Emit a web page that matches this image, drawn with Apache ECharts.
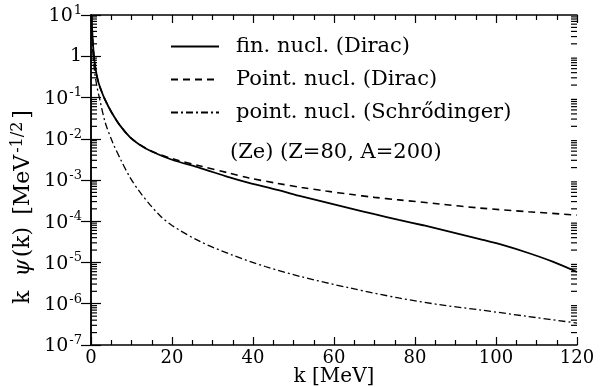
<!DOCTYPE html>
<html><head><meta charset="utf-8">
<script src="https://cdn.jsdelivr.net/npm/echarts@6/dist/echarts.min.js"></script>
<style>html,body{margin:0;padding:0;background:#fff}#c{width:615px;height:387px}</style>
</head><body><div id="c"></div>
<script>
// ---- data ----
const seriesNames = ['fin. nucl. (Dirac)', 'Point. nucl. (Dirac)', 'point. nucl. (Schrődinger)'];
const kFin = [0.15,0.3,0.6,1,1.7,2.5,3.5,5,7,9.6,12,15,20,27,34,39,46,52,58,64,70,76,82,88,96,102,108,114,120];
const vFin = [10,4,1.4,0.6,0.26,0.15,0.087,0.045,0.022,0.011,0.0072,0.0049,0.0031,0.00195,0.00117,0.00085,0.000575,0.0004,0.000285,0.000205,0.000148,0.000108,0.00008,0.000058,0.000037,0.000026,0.000017,0.0000105,0.0000059];
const kPt = [0.15,0.3,0.6,1,1.7,2.5,3.5,5,7,9.6,12,15,20,27,34,39,46,52,58,64,70,76,86,96,108,120];
const vPt = [10,4,1.4,0.6,0.26,0.15,0.087,0.045,0.022,0.011,0.0073,0.005,0.0033,0.00219,0.00148,0.00112,0.00083,0.00066,0.00054,0.00045,0.00038,0.00033,0.000263,0.000209,0.00017,0.000141];
const kSch = [0.15,0.4,0.8,1.4,2.2,3.5,5.4,7.5,9.6,12,14.6,17,20,27,35,43,52,64,76,86,96,108,120];
const vSch = [8,1.5,0.5,0.2,0.087,0.025,0.0079,0.0029,0.00117,0.00052,0.00025,0.000138,0.000079,0.000032,0.000015,0.000008,0.0000045,0.0000024,0.00000138,0.00000095,0.00000071,0.00000049,0.00000034];
const xTickLabels = ['0','20','40','60','80','100','120'];
const annotation = '(Ze) (Z=80, A=200)';
const xTitle = 'k [MeV]';

const FONT = 'DejaVu Serif';
const pairs = (ks, vs) => ks.map((k, i) => [k, vs[i]]);

// minor tick positions of the log axis (2..9 x 10^n)
const minorVals = [];
for (let e = -7; e <= 0; e++) for (let m = 2; m <= 9; m++) minorVals.push([0, m * Math.pow(10, e)]);

const chart = echarts.init(document.getElementById('c'), null, {renderer: 'canvas'});
const axisLine = {lineStyle: {color: '#000', width: 1.5}};
const yLabelFmt = v => {
  const e = Math.round(Math.log10(v));
  if (e === 0) return '{b|1}';
  return '{b|10}{s|' + (e < 0 ? '-' + (-e) : e) + '}';
};
const yRich = {
  b: {fontSize: 19, fontFamily: FONT, color: '#000', verticalAlign: 'bottom'},
  s: {fontSize: 13, fontFamily: FONT, color: '#000', verticalAlign: 'bottom', padding: [0, 0, 9, 1]}
};
const lineTick = {color: '#000', width: 1.2};

chart.setOption({
  animation: false,
  backgroundColor: '#fff',
  grid: {left: 91, right: 38, top: 15, bottom: 42, containLabel: false, outerBoundsMode: 'none'},
  legend: {
    orient: 'vertical', left: 165, top: 31, itemWidth: 48, itemHeight: 14, itemGap: 12,
    data: seriesNames,
    itemStyle: {opacity: 0},
    textStyle: {fontFamily: FONT, fontSize: 21, color: '#000', padding: [0, 0, 0, 12]}
  },
  xAxis: [{
    type: 'value', min: 0, max: 120, interval: 20,
    name: xTitle, nameLocation: 'middle', nameGap: 22, nameMoveOverlap: false,
    nameTextStyle: {fontFamily: FONT, fontSize: 20, color: '#000'},
    axisLine,
    axisTick: {inside: true, length: 8, lineStyle: lineTick},
    minorTick: {show: true, splitNumber: 4, length: 5, lineStyle: lineTick},
    axisLabel: {margin: 4, fontFamily: FONT, fontSize: 18, color: '#000',
      formatter: v => xTickLabels[Math.round(v / 20)]},
    splitLine: {show: false}
  }, {
    type: 'value', position: 'top', min: 0, max: 120, interval: 20,
    axisLine,
    axisTick: {inside: true, length: 8, lineStyle: lineTick},
    minorTick: {show: true, splitNumber: 4, length: 5, lineStyle: lineTick},
    axisLabel: {show: false}, splitLine: {show: false}
  }],
  yAxis: [{
    type: 'log', logBase: 10, min: 1e-7, max: 10,
    axisLine,
    axisTick: {inside: true, length: 10, lineStyle: lineTick},
    axisLabel: {margin: 9, formatter: yLabelFmt, rich: yRich},
    splitLine: {show: false}
  }, {
    type: 'log', logBase: 10, min: 1e-7, max: 10, position: 'right',
    axisLine,
    axisTick: {inside: true, length: 10, lineStyle: lineTick},
    axisLabel: {show: false}, splitLine: {show: false}
  }],
  graphic: [
    {type: 'text', left: 230, top: 142, style: {text: annotation, font: '21px "' + FONT + '"', fill: '#000'}},
    {type: 'text', x: 22, y: 207, rotation: Math.PI / 2,
     style: {
       text: '{k|k}{i|ψ}{p|(k)}{n|[MeV}{s|-1/2}{n|]}',
       align: 'center', verticalAlign: 'middle',
       rich: {
         k: {fontSize: 22, fontFamily: FONT, fill: '#000', verticalAlign: 'bottom', padding: [0, 14, 0, 0]},
         i: {fontSize: 22, fontFamily: FONT, fontStyle: 'italic', fill: '#000', verticalAlign: 'bottom', padding: [0, 2, 0, 0]},
         p: {fontSize: 22, fontFamily: FONT, fill: '#000', verticalAlign: 'bottom', padding: [0, 12, 0, 0]},
         n: {fontSize: 22, fontFamily: FONT, fill: '#000', verticalAlign: 'bottom'},
         s: {fontSize: 16, fontFamily: FONT, fill: '#000', verticalAlign: 'bottom', padding: [0, 3, 9, 2]}
       }
     }}
  ],
  series: [
    {name: seriesNames[0], type: 'line', data: pairs(kFin, vFin), showSymbol: false, symbol: 'none',
     smooth: 0.3, clip: true, itemStyle: {color: '#000'}, lineStyle: {color: '#000', width: 1.8, type: 'solid'}},
    {name: seriesNames[1], type: 'line', data: pairs(kPt, vPt), showSymbol: false, symbol: 'none',
     smooth: 0.3, clip: true, itemStyle: {color: '#000'}, lineStyle: {color: '#000', width: 1.6, type: [7, 5]}},
    {name: seriesNames[2], type: 'line', data: pairs(kSch, vSch), showSymbol: false, symbol: 'none',
     smooth: 0.3, clip: true, itemStyle: {color: '#000'}, lineStyle: {color: '#000', width: 1.3, type: [7, 3, 2, 3]}},
    {type: 'custom', silent: true, data: minorVals, clip: false, legendHoverLink: false,
     renderItem: (params, api) => {
       const v = api.value(1);
       const pl = api.coord([0, v]);
       const pr = api.coord([120, v]);
       return {type: 'group', children: [
         {type: 'line', shape: {x1: pl[0], y1: pl[1], x2: pl[0] + 6, y2: pl[1]}, style: {stroke: '#000', lineWidth: 1.2}},
         {type: 'line', shape: {x1: pr[0] - 6, y1: pr[1], x2: pr[0], y2: pr[1]}, style: {stroke: '#000', lineWidth: 1.2}}
       ]};
     }}
  ]
});
</script>
</body></html>
